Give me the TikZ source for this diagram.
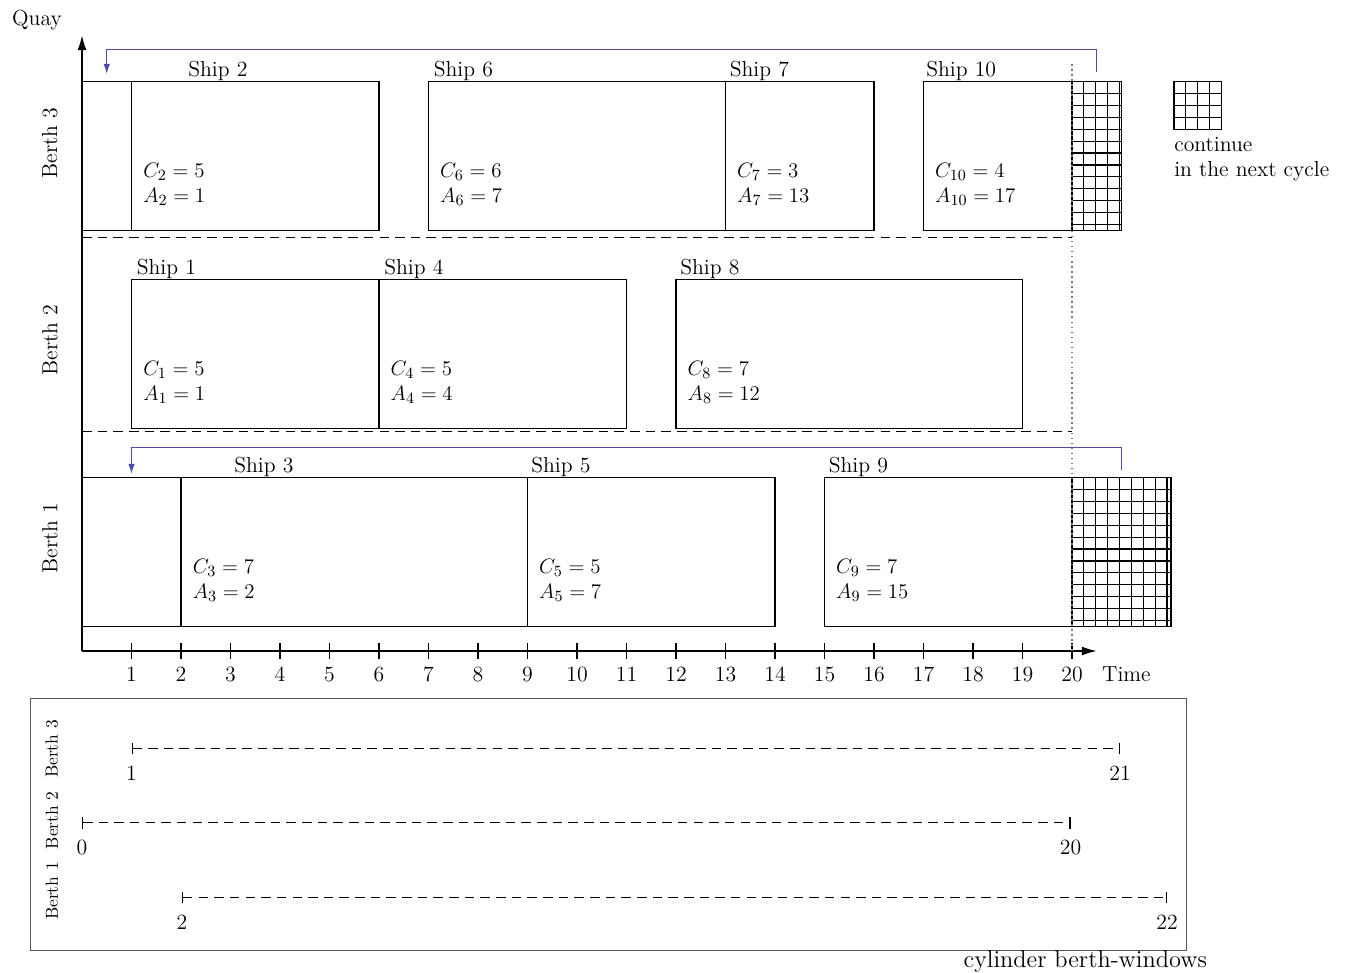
\documentclass[tikz,border=0pt]{standalone}
\usepackage{amsmath}
\usepackage{tikz}
\usetikzlibrary{arrows.meta,positioning,calc}
\definecolor{wrapblue}{HTML}{4B4BA8}
\definecolor{dotgray}{HTML}{7A7A7A}
\definecolor{framegray}{HTML}{555555}
\newcommand{\figfont}{\fontsize{12.5}{14.5}\selectfont}
\newcommand{\smallfigfont}{\fontsize{10}{12}\selectfont}
\tikzset{
  shipbox/.style={draw=black,line width=0.8pt,minimum height=3cm,
                  inner sep=0pt,outer sep=0pt,anchor=south west},
  carrybox/.style={shipbox},
  shiplabel/.style={anchor=base west,inner sep=0pt,font=\figfont},
  vals/.style={anchor=west,align=left,inner sep=0pt,font=\figfont},
  sepline/.style={dash pattern=on 5.5pt off 3.5pt,line width=0.7pt},
  wraparr/.style={-{Latex[length=2mm,width=1.3mm]},draw=wrapblue,line width=0.6pt},
  axisarr/.style={-{Latex[length=3mm,width=1.8mm]},line width=0.9pt},
  windowline/.style={{Bar[width=2.4mm]}-{Bar[width=2.4mm]},
                     dash pattern=on 5.5pt off 3.5pt,line width=0.7pt},
  hatch/.style={line width=0.7pt}
}

\begin{document}
\begin{tikzpicture}[x=1cm,y=1cm,every node/.append style={font=\figfont}]
    \useasboundingbox (-1.657,-6.505) rectangle (25.556,13.152);
    % axes
    \coordinate (origin) at (0,0);
    \draw[axisarr] (origin) -- (0,12.44);
    \draw[axisarr] (origin) -- (20.5,0);
    \node (quay) at (-0.91,12.75) {Quay};
    \node (time) at (21.1,-0.47) {Time};
    \foreach \t in {1,...,20}{
      \draw[line width=0.7pt] (\t,0.16) -- (\t,-0.16);
      \node (tick\t) at (\t,-0.47) {\t};
    }
    \node[rotate=90] (b3) at (-0.65,10.26) {Berth 3};
    \node[rotate=90] (b2) at (-0.65,6.28) {Berth 2};
    \node[rotate=90] (b1) at (-0.65,2.28) {Berth 1};
    % berth separators
    \draw[sepline] (0,8.36) -- (20,8.36);
    \draw[sepline] (0,4.44) -- (20,4.44);
    % ships
    \foreach \n/\xa/\w/\yb/\lx/\c/\a in {2/1/5/8.5/2.14/5/1, 6/7/6/8.5/7.1/6/7,
        7/13/3/8.5/13.08/3/13, 10/17/3/8.5/17.05/4/17, 1/1/5/4.5/1.1/5/1,
        4/6/5/4.5/6.1/5/4, 8/12/7/4.5/12.08/7/12, 3/2/7/0.5/3.07/7/2,
        5/9/5/0.5/9.07/5/7, 9/15/5/0.5/15.08/7/15}{
      \node[shipbox,minimum width=\w cm] (ship\n) at (\xa,\yb) {};
      \node[shiplabel] (lab\n) at (\lx,\yb+3.1) {Ship \n};
      \node[vals] (val\n) at ([shift={(0.23,-0.57)}]ship\n.west)
        {$C_{\n}=\c$\\$A_{\n}=\a$};
    }
    % carried over from the previous cycle
    \node[shipbox,minimum width=1cm] (lead3) at (0,8.5) {};
    \node[shipbox,minimum width=2cm] (lead1) at (0,0.5) {};
    % continuing into the next cycle
    \node[carrybox,minimum width=1cm] (carry3) at (20,8.5) {};
    \node[carrybox,minimum width=2cm] (carry1) at (20,0.5) {};
    \foreach \i in {1,...,4}
      \draw[hatch] ([xshift=\i*0.24cm]carry3.north west)
        -- ([xshift=\i*0.24cm]carry3.south west);
    \foreach \i in {1,...,8}
      \draw[hatch] ([xshift=\i*0.24cm]carry1.north west)
        -- ([xshift=\i*0.24cm]carry1.south west);
    \foreach \j in {1,...,12}{
      \draw[hatch] ([yshift=-\j*0.24cm]carry3.north west)
        -- ([yshift=-\j*0.24cm]carry3.north east);
      \draw[hatch] ([yshift=-\j*0.24cm]carry1.north west)
        -- ([yshift=-\j*0.24cm]carry1.north east);
    }
    \draw[dotted,dotgray,line width=0.9pt] (origin) ++(20,0) -- (20,11.9);
    \draw[wraparr] ([yshift=0.2cm]carry3.north) -- ++(0,0.46)
      -| ([yshift=0.16cm]lead3.north);
    \draw[wraparr] ([yshift=0.16cm]carry1.north) -- ++(0,0.46)
      -| ([yshift=0.08cm]lead1.north);
    % legend
    \node[carrybox,minimum width=0.96cm,minimum height=0.97cm,
          anchor=north west] (legend) at (22.06,11.5) {};
    \foreach \i in {1,...,3}
      \draw[hatch] ([xshift=\i*0.24cm]legend.north west)
        -- ([xshift=\i*0.24cm]legend.south west);
    \foreach \j in {1,...,4}
      \draw[hatch] ([yshift=-\j*0.24cm]legend.north west)
        -- ([yshift=-\j*0.24cm]legend.north east);
    \node[anchor=north west,align=left,inner sep=0pt]
      (legtext) at ([yshift=-0.15cm]legend.south west)
      {continue\\in the next cycle};
    % cylinder berth-windows
    \node[draw=framegray,line width=0.8pt,minimum width=23.35cm,
          minimum height=5.09cm,inner sep=0pt,anchor=north west]
      (cyl) at (-1.05,-0.95) {};
    \node[font=\fontsize{14}{17}\selectfont] (cyltext) at (20.27,-6.28)
      {cylinder berth-windows};
    \node[rotate=90,font=\smallfigfont] (wb3) at (-0.61,-1.98) {Berth 3};
    \node[rotate=90,font=\smallfigfont] (wb2) at (-0.61,-3.42) {Berth 2};
    \node[rotate=90,font=\smallfigfont] (wb1) at (-0.61,-4.85) {Berth 1};
    \node (w3s) at (1,-2.46) {1};
    \node (w3e) at (20.97,-2.46) {21};
    \node (w2s) at (0,-3.96) {0};
    \node (w2e) at (19.97,-3.96) {20};
    \node (w1s) at (2.02,-5.47) {2};
    \node (w1e) at (21.92,-5.47) {22};
    \draw[windowline] ([yshift=0.49cm]w3s.center) -- ([yshift=0.49cm]w3e.center);
    \draw[windowline] ([yshift=0.49cm]w2s.center) -- ([yshift=0.49cm]w2e.center);
    \draw[windowline] ([yshift=0.49cm]w1s.center) -- ([yshift=0.49cm]w1e.center);
  \end{tikzpicture}
\end{document}
